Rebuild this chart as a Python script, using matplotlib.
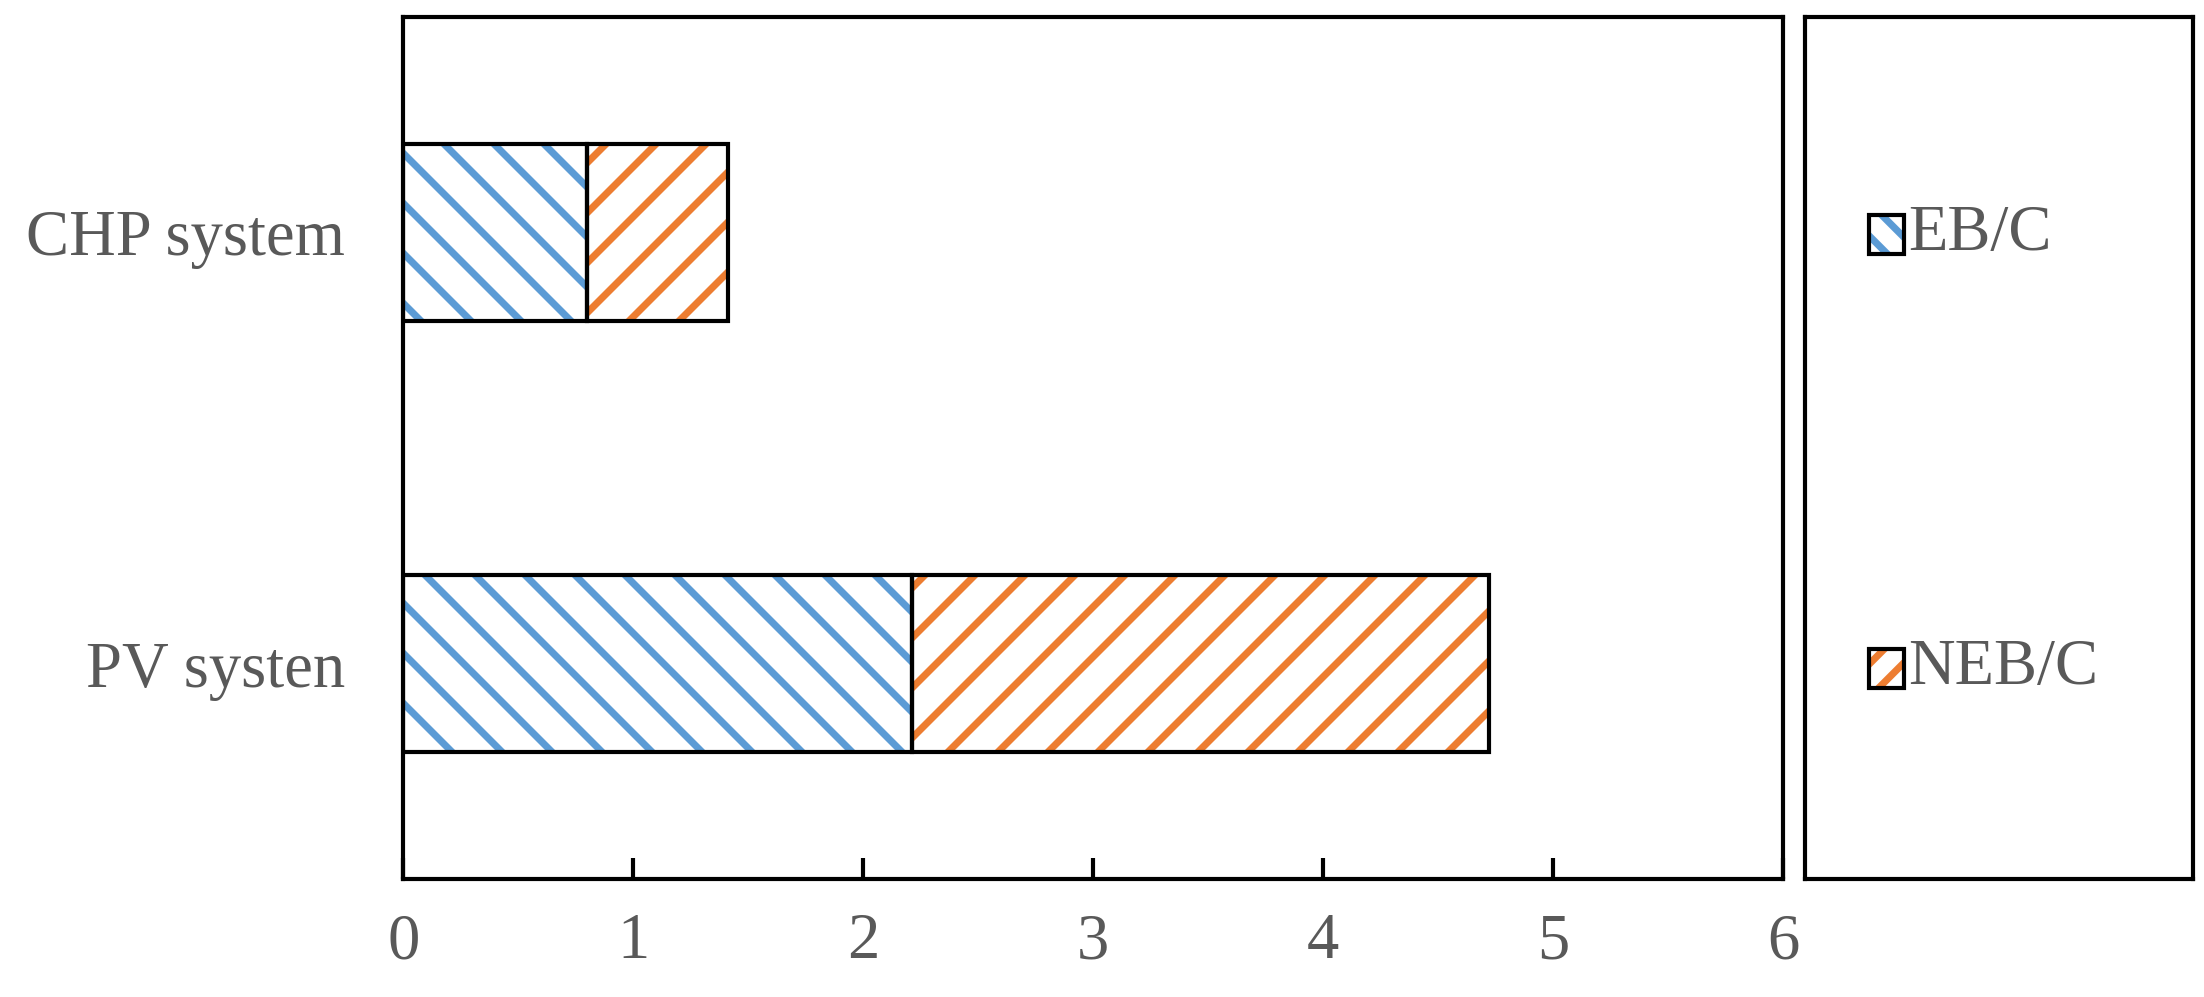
import matplotlib.pyplot as plt
from matplotlib.patches import Rectangle

categories = ["PV systen", "CHP system"]
eb_c = [2.21, 0.80]
neb_c = [2.51, 0.61]
series_names = ["EB/C", "NEB/C"]
x_ticks = [0, 1, 2, 3, 4, 5, 6]

BLUE = "#5b9bd5"
ORANGE = "#ed7d31"
GREY = "#595959"

plt.rcParams["font.family"] = ["Liberation Serif", "DejaVu Serif"]
plt.rcParams["hatch.linewidth"] = 1.7

fig = plt.figure(figsize=(2204 / 300, 997 / 300), dpi=300)
ax = fig.add_axes([0.183, 0.118, 0.626, 0.865])
lax = fig.add_axes([0.819, 0.118, 0.176, 0.865])

y = range(len(categories))
ax.barh(y, eb_c, height=0.41, facecolor="white", edgecolor=BLUE, hatch="\\\\", lw=0)
ax.barh(y, neb_c, left=eb_c, height=0.41, facecolor="white", edgecolor=ORANGE, hatch="//", lw=0)
ax.barh(y, eb_c, height=0.41, facecolor="none", edgecolor="black", lw=1.0)
ax.barh(y, neb_c, left=eb_c, height=0.41, facecolor="none", edgecolor="black", lw=1.0)

ax.set_xlim(0, 6)
ax.set_ylim(-0.5, 1.5)
ax.set_xticks(x_ticks)
ax.set_yticks(list(y))
ax.set_yticklabels(categories)
ax.tick_params(axis="x", direction="in", length=5, width=1.0, pad=8,
               labelsize=15.5, labelcolor=GREY)
ax.tick_params(axis="y", length=0, pad=14, labelsize=15.5, labelcolor=GREY)
for sp in ax.spines.values():
    sp.set_linewidth(1.0)

lax.set_xlim(0, 1)
lax.set_ylim(0, 1)
lax.set_xticks([])
lax.set_yticks([])
for sp in lax.spines.values():
    sp.set_linewidth(1.0)
for name, col, hat, yb in [(series_names[0], BLUE, "\\\\\\", 0.725),
                           (series_names[1], ORANGE, "///", 0.222)]:
    lax.add_patch(Rectangle((0.165, yb), 0.09, 0.045, facecolor="white",
                            edgecolor=col, hatch=hat, lw=0))
    lax.add_patch(Rectangle((0.165, yb), 0.09, 0.045, facecolor="none",
                            edgecolor="black", lw=1.0))
    lax.text(0.265, yb + 0.0225, name, va="center", ha="left",
             fontsize=15.5, color=GREY)

fig.savefig("out.png", dpi=300)
